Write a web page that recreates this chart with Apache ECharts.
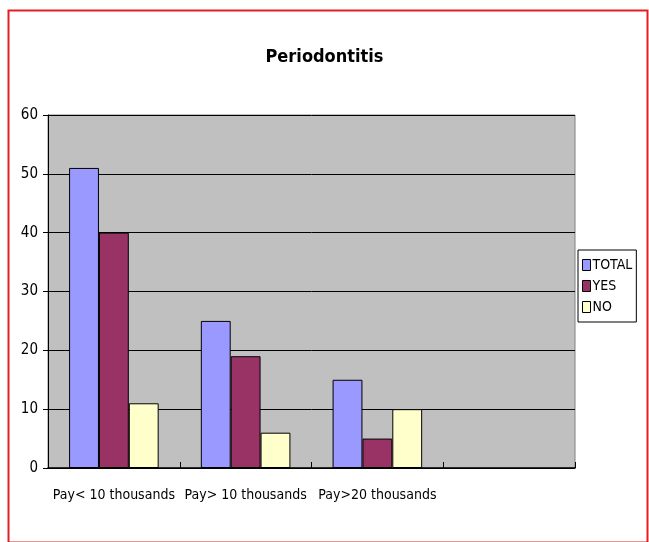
<!DOCTYPE html>
<html>
  <head>
    <meta charset="utf-8" />
    <title>Periodontitis</title>
    <script src="https://cdn.jsdelivr.net/npm/echarts@6/dist/echarts.min.js"></script>
  </head>
  <body style="margin:0;background:#fff;">
    <div id="chart" style="width:649px;height:542px;"></div>
    <script type="text/javascript">
      // data
      var categories = ['Pay< 10 thousands', 'Pay> 10 thousands', 'Pay>20 thousands', ''];
      var total = [51, 25, 15, null];
      var yes = [40, 19, 5, null];
      var no = [11, 6, 10, null];
      var yTicks = [0, 10, 20, 30, 40, 50, 60];

      var font = '"DejaVu Sans Condensed", "Liberation Sans Narrow", "Liberation Sans", sans-serif';

      var chart = echarts.init(document.getElementById('chart'));
      chart.setOption({
        animation: false,
        backgroundColor: '#fff',
        title: {
          text: 'Periodontitis',
          left: 'center',
          top: 43,
          textStyle: { fontFamily: font, fontSize: 18, fontWeight: 'bold', color: '#000' }
        },
        legend: {
          orient: 'vertical',
          left: 578,
          top: 250,
          padding: [8, 4, 8, 4],
          itemGap: 7,
          itemWidth: 8,
          itemHeight: 11,
          icon: 'rect',
          borderColor: '#000',
          borderWidth: 1,
          textStyle: { fontFamily: font, fontSize: 14, color: '#000', padding: [0, 0, 0, -3] },
          itemStyle: { borderColor: '#000', borderWidth: 1 },
          data: ['TOTAL', 'YES', 'NO']
        },
        grid: {
          left: 48, right: 74, top: 115, bottom: 74,
          show: true,
          backgroundColor: '#c0c0c0',
          borderColor: '#808080',
          borderWidth: 1
        },
        xAxis: {
          type: 'category',
          data: categories,
          axisLine: { lineStyle: { color: '#000', width: 1.5 } },
          axisTick: { show: true, inside: true, length: 6, lineStyle: { color: '#000' } },
          axisLabel: { fontFamily: font, fontSize: 14, color: '#000', margin: 20, interval: 0 }
        },
        yAxis: {
          type: 'value',
          min: yTicks[0],
          max: yTicks[yTicks.length - 1],
          interval: 10,
          axisLine: { show: true, lineStyle: { color: '#000' } },
          axisTick: { show: true, length: 5, lineStyle: { color: '#000' } },
          axisLabel: { fontFamily: font, fontSize: 15, color: '#000', margin: 10 },
          splitLine: { show: true, lineStyle: { color: '#000', width: 1 } }
        },
        series: [
          { name: 'TOTAL', type: 'bar', data: total, barGap: '0%', barCategoryGap: '32%',
            itemStyle: { color: '#9999ff', borderColor: '#000', borderWidth: 1 } },
          { name: 'YES', type: 'bar', data: yes, barGap: '0%', barCategoryGap: '32%',
            itemStyle: { color: '#993366', borderColor: '#000', borderWidth: 1 } },
          { name: 'NO', type: 'bar', data: no, barGap: '0%', barCategoryGap: '32%',
            itemStyle: { color: '#ffffcc', borderColor: '#000', borderWidth: 1 } }
        ],
        graphic: [
          { type: 'rect', left: 6, top: 8, shape: { width: 639, height: 532 },
            style: { fill: 'none', stroke: '#e02020', lineWidth: 2 }, silent: true, z: -1 }
        ]
      });
    </script>
  </body>
</html>
